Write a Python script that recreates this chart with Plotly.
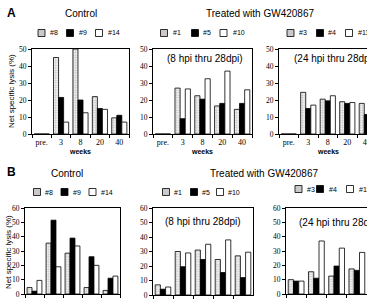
import plotly.graph_objects as go

W, H = 367, 300

weeks = ["pre.", "3", "8", "20", "40"]

# Panel A (values in % net specific lysis)
a_ctrl_8 = [0, 45, 50, 22, 9.5]
a_ctrl_9 = [0, 21.5, 20, 15, 11]
a_ctrl_14 = [0, 7, 12.5, 14.5, 7]
a_8hpi_1 = [0, 27, 22.5, 16.5, 14.5]
a_8hpi_5 = [0, 9, 20.5, 18, 18]
a_8hpi_10 = [0, 26.5, 32.5, 37, 26]
a_24hpi_3 = [0, 24.5, 20.5, 19, 18]
a_24hpi_4 = [0, 15, 19.5, 18, 11.5]
a_24hpi_11 = [0, 17, 22.5, 18.5, 15]

# Panel B
b_ctrl_8 = [4.5, 35.5, 28.5, 4.5, 2.5]
b_ctrl_9 = [2, 51.5, 39, 26, 11]
b_ctrl_14 = [9.5, 19, 33.5, 20, 12.5]
b_8hpi_1 = [7, 30, 31, 24.5, 27]
b_8hpi_5 = [4, 19.5, 24.5, 15.5, 12]
b_8hpi_10 = [5.5, 29, 35, 38, 29.5]
b_24hpi_3 = [10, 15.5, 12.5, 17.5, 15]
b_24hpi_4 = [9, 11, 19.5, 16.5, 12]
b_24hpi_11 = [9, 37, 32, 29, 20]

labels_ctrl = ["#8", "#9", "#14"]
labels_8hpi = ["#1", "#5", "#10"]
labels_24hpi = ["#3", "#4", "#11"]

SANS = "Liberation Sans, Arial, sans-serif"
SERIF = "Liberation Serif, Times New Roman, serif"


def px(x):
    return x / W


def py(y):
    return 1 - y / H


styles = [
    dict(color="white", line=dict(color="black", width=0.8),
         pattern=dict(shape=".", fgcolor="#8a8a8a", bgcolor="white", size=2.5, solidity=0.5)),
    dict(color="black", line=dict(color="black", width=0.8)),
    dict(color="white", line=dict(color="black", width=0.8)),
]

fig = go.Figure()

panels = [
    # (series, labels, axis suffix, x px domain, y px domain, yrange max, xrange, right mirror, show x labels)
    ([a_ctrl_8, a_ctrl_9, a_ctrl_14], labels_ctrl, "", (32, 129), (49, 134), 50, [-0.5, 4.5], True, True),
    ([a_8hpi_1, a_8hpi_5, a_8hpi_10], labels_8hpi, "2", (153, 252), (49, 134), 50, [-0.5, 4.5], True, True),
    ([a_24hpi_3, a_24hpi_4, a_24hpi_11], labels_24hpi, "3", (279, 367), (49, 134), 50, [-0.5, 4.01], False, True),
    ([b_ctrl_8, b_ctrl_9, b_ctrl_14], labels_ctrl, "4", (25, 120), (208, 294), 60, [-0.5, 4.5], True, False),
    ([b_8hpi_1, b_8hpi_5, b_8hpi_10], labels_8hpi, "5", (153, 253), (208, 295), 60, [-0.5, 4.5], True, False),
    ([b_24hpi_3, b_24hpi_4, b_24hpi_11], labels_24hpi, "6", (286, 367), (208, 294), 60, [-0.5, 3.5], False, False),
]

layout_axes = {}
for series, labs, sfx, xd, yd, ymax, xr, rmirror, showx in panels:
    for vals, lab, st in zip(series, labs, styles):
        fig.add_trace(go.Bar(x=weeks, y=vals, name=lab, marker=st,
                             xaxis="x" + sfx, yaxis="y" + sfx, showlegend=False))
    layout_axes["xaxis" + sfx] = dict(
        domain=[px(xd[0]), px(xd[1])], anchor="y" + sfx, type="category",
        range=xr, showline=True, linecolor="black", linewidth=1, mirror=True,
        ticks="outside", ticklen=3, tickwidth=1, tickcolor="black", tickson="boundaries",
        showgrid=False, zeroline=False, automargin=False, tickangle=0,
        showticklabels=showx,
        tickfont=dict(family=SERIF, size=8, color="black"))
    layout_axes["yaxis" + sfx] = dict(
        domain=[py(yd[1]), py(yd[0])], anchor="x" + sfx, range=[0, ymax],
        dtick=10, showline=True, linecolor="black", linewidth=1, mirror=rmirror,
        ticks="outside", ticklen=3, tickwidth=1, tickcolor="black",
        showgrid=False, zeroline=False, automargin=False,
        tickfont=dict(family=SERIF, size=7.5, color="black"))

shapes = []
annotations = []


def text(x, y, t, size=10, bold=False, family=SANS, xanchor="center", angle=0):
    annotations.append(dict(
        x=px(x), y=py(y), xref="paper", yref="paper", text=("<b>%s</b>" % t) if bold else t,
        showarrow=False, xanchor=xanchor, yanchor="middle", textangle=angle,
        font=dict(family=family, size=size, color="black")))


# legends (box centers, text starts, y center)
legend_specs = [
    (labels_ctrl, [41.5, 70, 99], [47.5, 77, 106], 33),
    (labels_8hpi, [164, 195, 223.5], [170.5, 201, 231], 33),
    (labels_24hpi, [290.5, 320, 349], [297, 326, 355.5], 33),
    (labels_ctrl, [37, 64.5, 92.5], [42.5, 71, 99], 192),
    (labels_8hpi, [166, 194, 220], [172, 200, 226.5], 192),
    (labels_24hpi, [298.5, 320, 350], [305, 327, 357], 189),
]
box_fill = ["#c9c9c9", "black", "white"]
for labs, bx, tx, yc in legend_specs:
    for lab, cx, t0, fc in zip(labs, bx, tx, box_fill):
        shapes.append(dict(type="rect", xref="paper", yref="paper",
                           x0=px(cx - 3.5), x1=px(cx + 3.5), y0=py(yc + 3.5), y1=py(yc - 3.5),
                           fillcolor=fc, line=dict(color="black", width=0.8)))
        text(t0, yc, lab, size=7, xanchor="left")

# titles
text(12, 13, "A", size=12, bold=True)
text(12, 172, "B", size=12, bold=True)
text(81, 14, "Control", size=10)
text(260, 13, "Treated with GW420867", size=10)
text(67, 173, "Control", size=10)
text(264, 173, "Treated with GW420867", size=10)
text(205, 58, "(8 hpi thru 28dpi)", size=10)
text(292, 58, "(24 hpi thru 28dpi)", size=10, xanchor="left")
text(203, 221, "(8 hpi thru 28dpi)", size=10)
text(297, 222, "(24 hpi thru 28dpi)", size=10, xanchor="left")

# y-axis titles
text(11, 91, "Net specific lysis (%)", size=8, angle=-90)
text(8, 252, "Net specific lysis (%)", size=8, angle=-90)

# x-axis titles
for cx in [80, 202, 328]:
    text(cx, 151, "weeks", size=7, bold=True)

fig.update_layout(
    width=W, height=H, margin=dict(l=0, r=0, t=0, b=0),
    paper_bgcolor="white", plot_bgcolor="white",
    barmode="group", bargap=0.22, bargroupgap=0,
    shapes=shapes, annotations=annotations, showlegend=False,
    **layout_axes)

fig.write_html("out.html")
